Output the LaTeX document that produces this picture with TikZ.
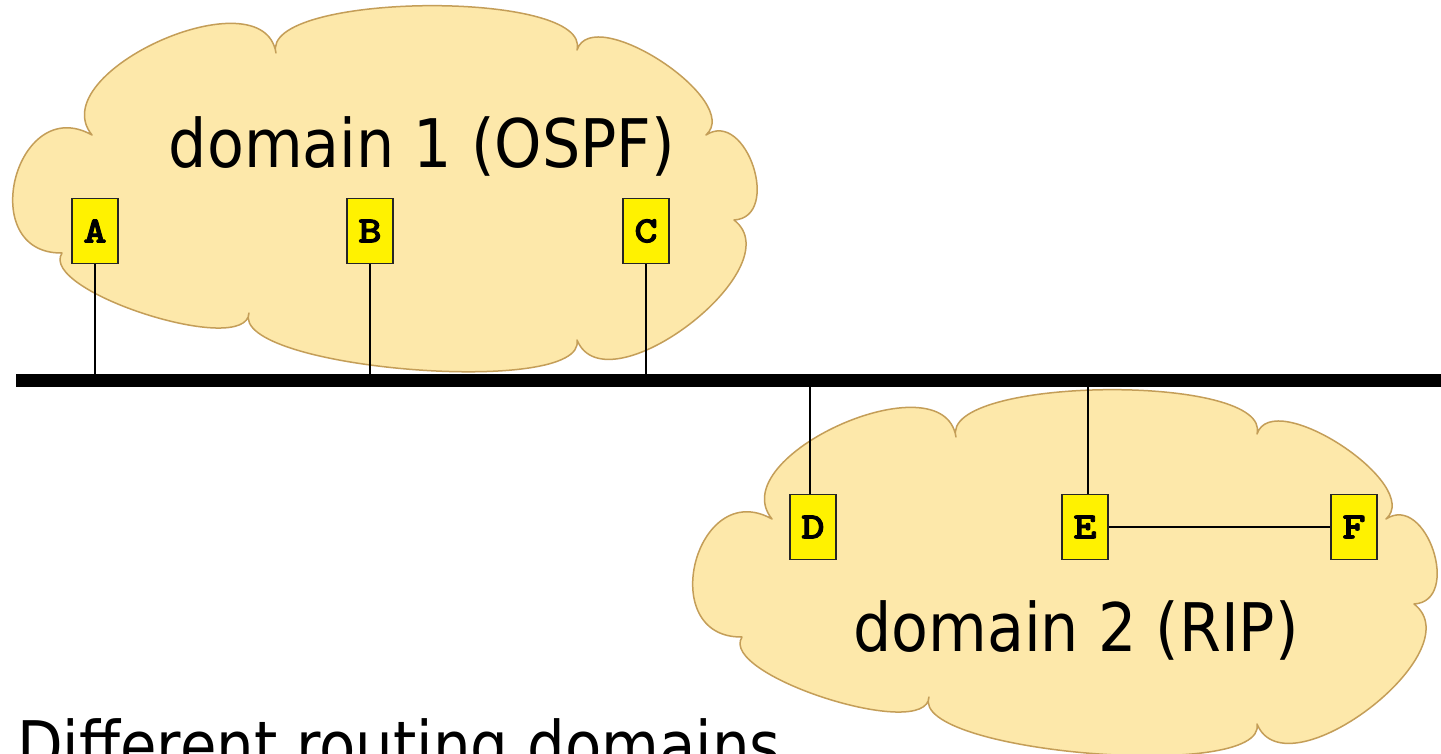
\documentclass[tikz,border=0pt]{standalone}
\usepackage{fontspec}
\setmainfont{DejaVu Sans}[FakeStretch=0.9]
\newfontfamily\boxfont{lmmonolt10-bold.otf}[FakeBold=2.5,FakeStretch=1.2]
\usetikzlibrary{calc}
\definecolor{cloudfill}{RGB}{253,232,170}
\definecolor{cloudline}{RGB}{196,158,88}
\newcommand\cbump[3]{.. controls ($(#1)!#3!105:(#2)$) and ($(#2)!#3!-105:(#1)$) .. (#2)}
\newcommand\drawcloud[2]{%
  \begin{scope}[shift={(#1,#2)}]
    \coordinate (P1) at (92,135);
    \coordinate (P2) at (276,53);
    \coordinate (P3) at (577,50);
    \coordinate (P4) at (706,135);
    \coordinate (P5) at (734,220);
    \coordinate (P6) at (577,340);
    \coordinate (P7) at (249,313);
    \coordinate (P8) at (62,253);
    \path[cloudstyle] (P1) \cbump{P1}{P2}{0.40} \cbump{P2}{P3}{0.21}
      \cbump{P3}{P4}{0.33} \cbump{P4}{P5}{0.54} \cbump{P5}{P6}{0.39}
      \cbump{P6}{P7}{0.18} \cbump{P7}{P8}{0.23} \cbump{P8}{P1}{0.72} -- cycle;
  \end{scope}}
\begin{document}
\begin{tikzpicture}[x=1pt,y=-1pt,
  cloudstyle/.style={fill=cloudfill, draw=cloudline, line width=1.5pt, line join=round},
  router/.style={draw=black!85, line width=1.8pt, fill=yellow, minimum width=46,
    minimum height=65, inner sep=0pt, font=\boxfont\fontsize{37}{37}\selectfont},
  label/.style={inner sep=0pt, font=\fontsize{67}{67}\selectfont},
  link/.style={line width=2pt, black},
  bus/.style={line width=13pt, black}]
\useasboundingbox (0,0) rectangle (1441,754);
\clip (0,0) rectangle (1441,754);
\fill[white] (0,0) rectangle (1441,754);
\drawcloud{0}{0}
\drawcloud{680}{384}
\coordinate (busL) at (16,380);
\coordinate (busR) at (1445,380);
\node[router] (A) at (95,231) {A};
\node[router] (B) at (370,231) {B};
\node[router] (C) at (646,231) {C};
\node[router] (D) at (813,527) {D};
\node[router] (E) at (1085,527) {E};
\node[router] (F) at (1354,527) {F};
\draw[link] (A.south) -- (A.south |- busL);
\draw[link] (B.south) -- (B.south |- busL);
\draw[link] (C.south) -- (C.south |- busL);
\draw[link] ([xshift=-3pt]D.north) -- ([xshift=-3pt]D.north |- busL);
\draw[link] ([xshift=3pt]E.north) -- ([xshift=3pt]E.north |- busL);
\draw[link] (E.east) -- (F.west);
\draw[bus] (busL) -- (busR);
\node[label, anchor=base] (d1) at (422,168) {domain 1 (OSPF)};
\node[label, anchor=base] (d2) at (1076,651) {domain 2 (RIP)};
\node[label, anchor=base west, xscale=0.985] (title) at (17,769) {Different routing domains};
\end{tikzpicture}
\end{document}
